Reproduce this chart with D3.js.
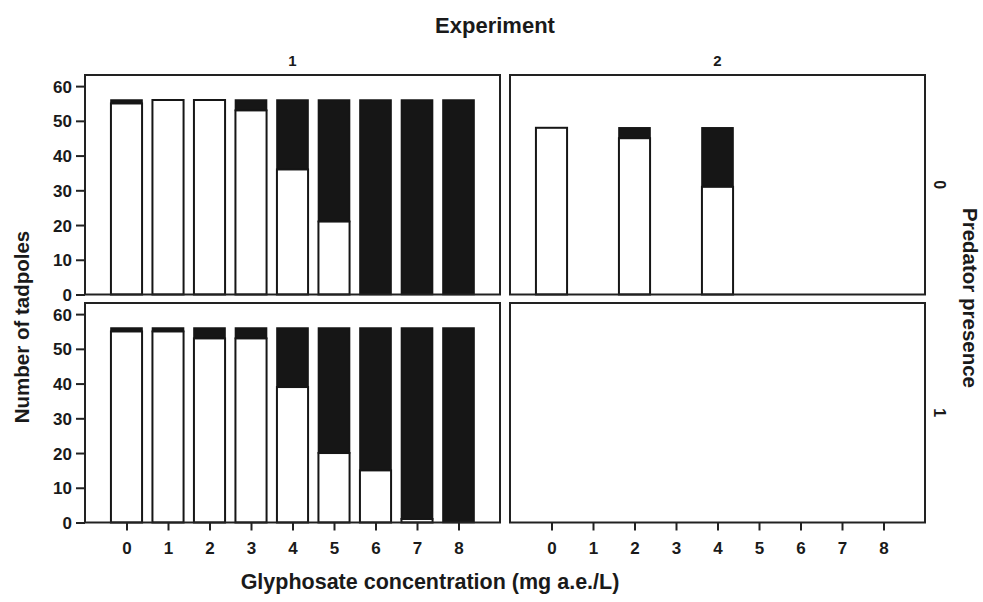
<html>
<head>
<script src="https://cdn.jsdelivr.net/npm/d3@7/dist/d3.min.js"></script>
<style>
  body { margin: 0; background: #fff; }
  svg text { font-family: "Liberation Sans", Arial, Helvetica, sans-serif; font-weight: bold; fill: #1a1a1a; }
</style>
</head>
<body>
<div id="chart"></div>
<script>
// glyphosate concentrations (mg a.e./L)
var concentrations = [0, 1, 2, 3, 4, 5, 6, 7, 8];
var yTicks = [0, 10, 20, 30, 40, 50, 60];

// experiment 1, no predator
var exp1Pred0Conc = [0, 1, 2, 3, 4, 5, 6, 7, 8];
var exp1Pred0Alive = [55, 56, 56, 53, 36, 21, 0, 0, 0];
var exp1Pred0Dead = [1, 0, 0, 3, 20, 35, 56, 56, 56];

// experiment 2, no predator
var exp2Pred0Conc = [0, 2, 4];
var exp2Pred0Alive = [48, 45, 31];
var exp2Pred0Dead = [0, 3, 17];

// experiment 1, predator present
var exp1Pred1Conc = [0, 1, 2, 3, 4, 5, 6, 7, 8];
var exp1Pred1Alive = [55, 55, 53, 53, 39, 20, 15, 1, 0];
var exp1Pred1Dead = [1, 1, 3, 3, 17, 36, 41, 55, 56];

// experiment 2, predator present: no data
var exp2Pred1Conc = [];
var exp2Pred1Alive = [];
var exp2Pred1Dead = [];

var stripTop = ['1', '2'];
var stripRight = ['0', '1'];

function rows(conc, alive, dead) {
  return conc.map(function(c, i) { return { c: c, alive: alive[i], dead: dead[i] } });
}

var panels = [
  { col: 0, row: 0, data: rows(exp1Pred0Conc, exp1Pred0Alive, exp1Pred0Dead) },
  { col: 1, row: 0, data: rows(exp2Pred0Conc, exp2Pred0Alive, exp2Pred0Dead) },
  { col: 0, row: 1, data: rows(exp1Pred1Conc, exp1Pred1Alive, exp1Pred1Dead) },
  { col: 1, row: 1, data: rows(exp2Pred1Conc, exp2Pred1Alive, exp2Pred1Dead) }
];

var W = 983, H = 602;
var colX = [85, 510], panelW = 415;
var rowY = [75, 303], panelH = 219.5;

var svg = d3.select('#chart').append('svg')
  .attr('width', W)
  .attr('height', H);

var y = d3.scaleLinear().domain([0, 63.2]).range([panelH, 0]);
var x = d3.scaleLinear().domain([-1, 9]).range([0, panelW]);
var barW = (x(1) - x(0)) * 0.75;

panels.forEach(function(p) {
  var g = svg.append('g')
    .attr('transform', 'translate(' + colX[p.col] + ',' + rowY[p.row] + ')');

  // black (dead) part on top
  g.selectAll('rect.dead').data(p.data.filter(function(d) { return d.dead > 0 }))
    .enter().append('rect')
      .attr('class', 'dead')
      .attr('x', function(d) { return x(d.c) - barW / 2 })
      .attr('width', barW)
      .attr('y', function(d) { return y(d.alive + d.dead) })
      .attr('height', function(d) { return y(d.alive) - y(d.alive + d.dead) })
      .attr('fill', '#161616')
      .attr('stroke', '#161616')
      .attr('stroke-width', 1.5);

  // white (alive) part at the bottom
  g.selectAll('rect.alive').data(p.data.filter(function(d) { return d.alive > 0 }))
    .enter().append('rect')
      .attr('class', 'alive')
      .attr('x', function(d) { return x(d.c) - barW / 2 })
      .attr('width', barW)
      .attr('y', function(d) { return y(d.alive) })
      .attr('height', function(d) { return y(0) - y(d.alive) })
      .attr('fill', '#fff')
      .attr('stroke', '#161616')
      .attr('stroke-width', 2);

  g.append('rect')
    .attr('width', panelW)
    .attr('height', panelH)
    .attr('fill', 'none')
    .attr('stroke', '#222')
    .attr('stroke-width', 2);

  // left axis on the left column
  if (p.col == 0) {
    var ya = g.append('g').call(d3.axisLeft(y).tickValues(yTicks).tickSize(9).tickPadding(4));
    ya.select('.domain').remove();
    ya.selectAll('line').attr('stroke', '#222').attr('stroke-width', 2);
    ya.selectAll('text').style('font-size', '17px').attr('fill', '#1a1a1a').attr('dy', '0.36em');
  }

  // bottom axis on the bottom row
  if (p.row == 1) {
    var xa = g.append('g')
      .attr('transform', 'translate(0,' + panelH + ')')
      .call(d3.axisBottom(x).tickValues(concentrations).tickFormat(d3.format('d')).tickSize(8).tickPadding(11));
    xa.select('.domain').remove();
    xa.selectAll('line').attr('stroke', '#222').attr('stroke-width', 2);
    xa.selectAll('text').style('font-size', '17px').attr('fill', '#1a1a1a');
  }
});

// strip labels
stripTop.forEach(function(t, i) {
  svg.append('text')
    .attr('x', colX[i] + panelW / 2)
    .attr('y', 66)
    .attr('text-anchor', 'middle')
    .style('font-size', '15px')
    .text(t);
});
stripRight.forEach(function(t, i) {
  svg.append('text')
    .attr('transform', 'translate(934,' + (rowY[i] + panelH / 2) + ') rotate(90)')
    .attr('text-anchor', 'middle')
    .style('font-size', '16px')
    .text(t);
});

svg.append('text')
  .attr('x', 495).attr('y', 33)
  .attr('text-anchor', 'middle')
  .style('font-size', '22px')
  .text('Experiment');

svg.append('text')
  .attr('transform', 'translate(963,298) rotate(90)')
  .attr('text-anchor', 'middle')
  .style('font-size', '20.5px')
  .text('Predator presence');

svg.append('text')
  .attr('transform', 'translate(29,327) rotate(-90)')
  .attr('text-anchor', 'middle')
  .style('font-size', '20.5px')
  .text('Number of tadpoles');

svg.append('text')
  .attr('x', 430).attr('y', 589)
  .attr('text-anchor', 'middle')
  .style('font-size', '21.5px')
  .text('Glyphosate concentration (mg a.e./L)');
</script>
</body>
</html>
